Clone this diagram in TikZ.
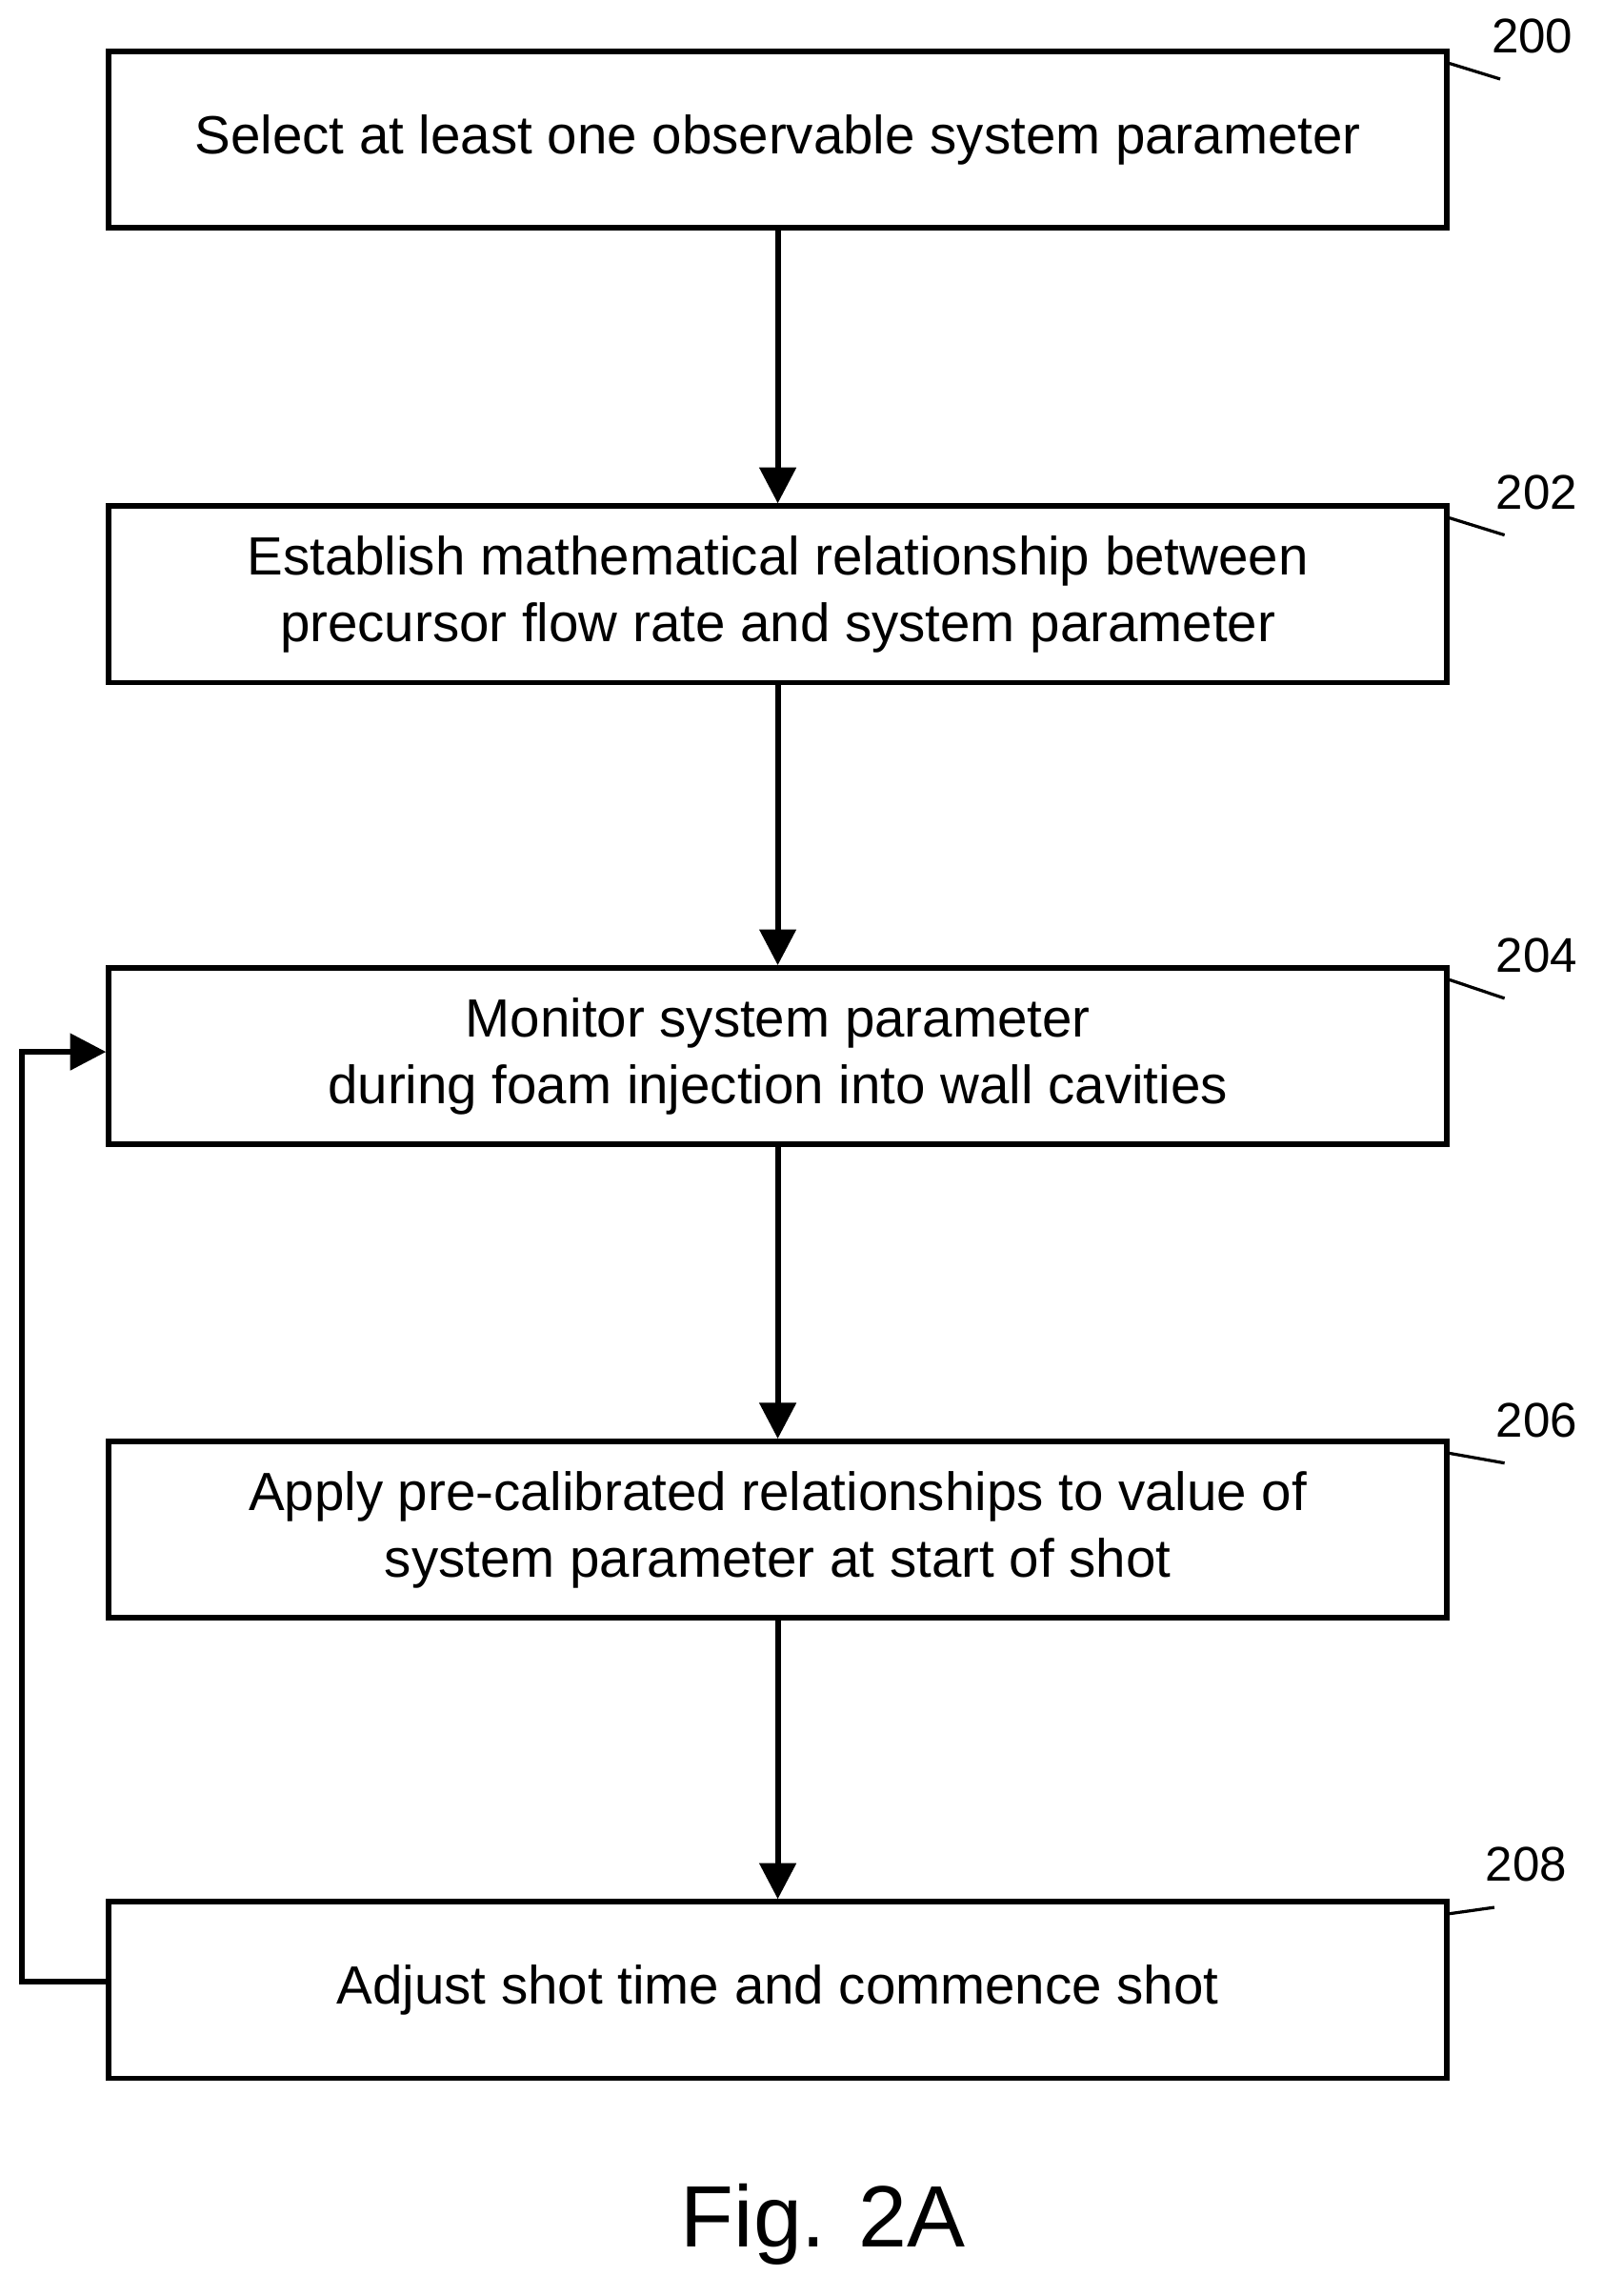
\documentclass[tikz,border=0pt]{standalone}
\usepackage{fontspec}
\setmainfont{Liberation Sans}
\usetikzlibrary{positioning}
\usetikzlibrary{arrows.meta}

\begin{document}
\begin{tikzpicture}[x=0.01cm,y=-0.01cm,
  stepbox/.style={draw,line width=1.1pt,minimum width=9.18cm,minimum height=1.21cm,
    align=center,font=\fontsize{10.5}{13}\selectfont,inner sep=0pt},
  flow/.style={line width=1.1pt,-{Triangle[length=7pt,width=7pt]}},
  refnum/.style={font=\fontsize{9.5}{11}\selectfont}]
\useasboundingbox (0,0) rectangle (1100,1576);

% boxes
\node[stepbox] (sel) at (534,96) {Select at least one observable system parameter};
\node[stepbox] (est) at (534,408) {Establish mathematical relationship between\\precursor flow rate and system parameter};
\node[stepbox] (mon) at (534,725) {Monitor system parameter\\during foam injection into wall cavities};
\node[stepbox] (app) at (534,1050) {Apply pre-calibrated relationships to value of\\system parameter at start of shot};
\node[stepbox] (adj) at (534,1366) {Adjust shot time and commence shot};

% flow
\draw[flow] (sel) -- (est);
\draw[flow] (est) -- (mon);
\draw[flow] (mon) -- (app);
\draw[flow] (app) -- (adj);
\coordinate (lb) at (15,1360);
\coordinate (lt) at (15,722);
\draw[flow] (adj.west |- lb) -- (lb) -- (lt) -- (mon.west |- lt);

% reference numerals
\node[refnum] (n200) at (1052,25) {200};
\node[refnum] (n202) at (1055,338) {202};
\node[refnum] (n204) at (1055,656) {204};
\node[refnum] (n206) at (1055,975) {206};
\node[refnum] (n208) at (1048,1280) {208};
\foreach \b/\n in {sel/n200,est/n202,mon/n204,app/n206,adj/n208}
  \draw[line width=0.6pt] ([yshift=-0.1cm]\b.north east) .. controls +(0.25,0.05) and +(-0.25,-0.05) .. ([xshift=-0.22cm,yshift=-0.05cm]\n.south);

\node[font=\fontsize{17}{20}\selectfont] (fig) at (565,1527) {Fig. 2A};
\end{tikzpicture}
\end{document}
